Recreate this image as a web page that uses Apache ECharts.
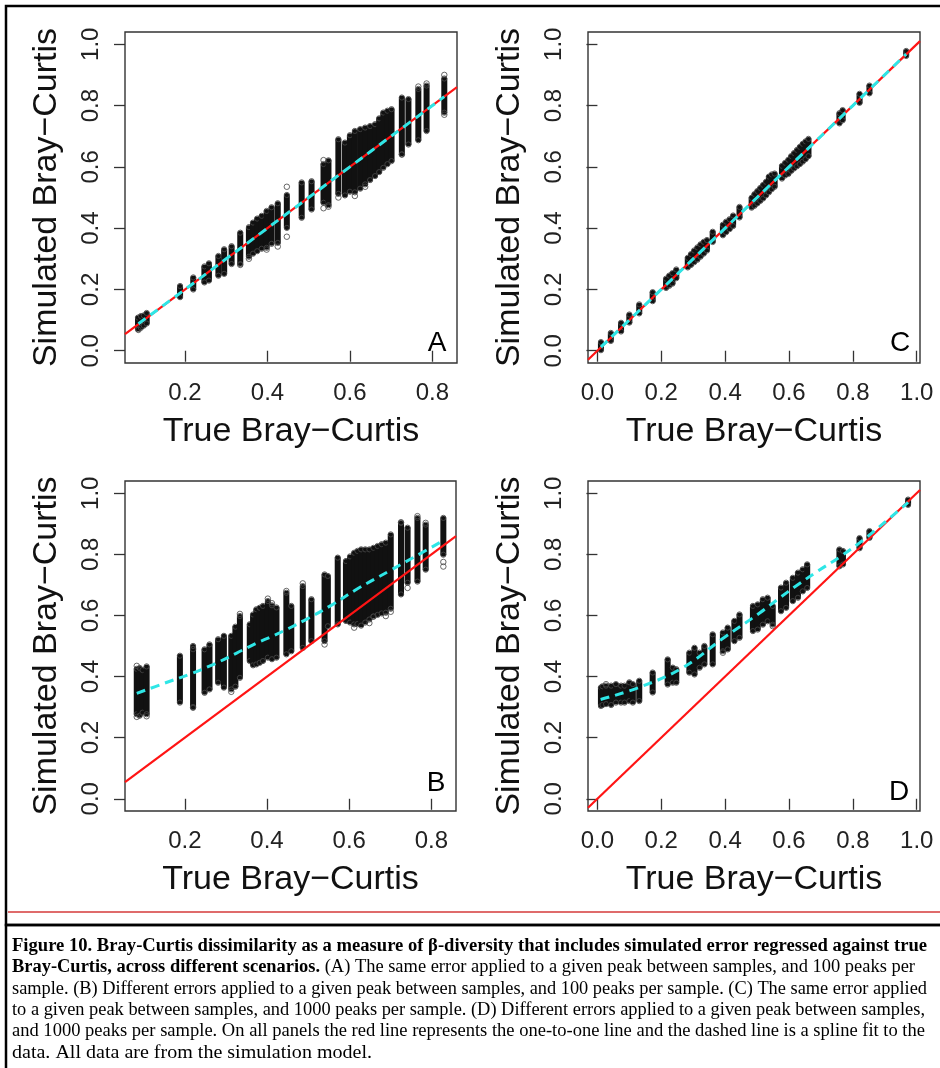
<!DOCTYPE html>
<html>
<head>
<meta charset="utf-8">
<title>Figure 10</title>
<script src="https://cdn.jsdelivr.net/npm/echarts@6/dist/echarts.min.js"></script>
<style>
  html, body { margin: 0; padding: 0; background: #fff; }
  #main { width: 940px; height: 1068px; }
</style>
</head>
<body>
<div id="main"></div>
<script>
  // tick labels
  const yTicks = [0, 0.2, 0.4, 0.6, 0.8, 1.0];
  const xTicksAB = [0.2, 0.4, 0.6, 0.8];
  const xTicksCD = [0, 0.2, 0.4, 0.6, 0.8, 1.0];

  // columns of simulated points: [true BC, lowest simulated BC, highest simulated BC]
  const clustersA = [
    [0.086, 0.073, 0.105], [0.093, 0.078, 0.110], [0.100, 0.085, 0.112], [0.107, 0.092, 0.120],
    [0.188, 0.178, 0.208], [0.220, 0.203, 0.236], [0.247, 0.226, 0.272], [0.258, 0.232, 0.282],
    [0.281, 0.248, 0.306], [0.295, 0.254, 0.328], [0.313, 0.286, 0.338], [0.334, 0.286, 0.382],
    [0.355, 0.310, 0.400], [0.365, 0.320, 0.415], [0.375, 0.328, 0.428], [0.386, 0.336, 0.437],
    [0.398, 0.339, 0.453], [0.410, 0.352, 0.465], [0.425, 0.355, 0.478], [0.447, 0.404, 0.505],
    [0.483, 0.437, 0.546], [0.507, 0.464, 0.550], [0.536, 0.486, 0.606], [0.548, 0.478, 0.618],
    [0.572, 0.515, 0.687], [0.588, 0.510, 0.676], [0.600, 0.522, 0.700], [0.612, 0.520, 0.714],
    [0.625, 0.532, 0.720], [0.637, 0.546, 0.725], [0.649, 0.560, 0.730], [0.661, 0.573, 0.736],
    [0.671, 0.586, 0.755], [0.681, 0.600, 0.774], [0.691, 0.612, 0.780], [0.701, 0.622, 0.785],
    [0.726, 0.644, 0.823], [0.742, 0.676, 0.818], [0.766, 0.690, 0.851], [0.786, 0.720, 0.862],
    [0.829, 0.780, 0.885]
  ];
  const clustersB = [
    [0.083, 0.280, 0.422], [0.090, 0.275, 0.425], [0.097, 0.285, 0.418], [0.107, 0.280, 0.430],
    [0.188, 0.318, 0.465], [0.220, 0.301, 0.497], [0.248, 0.350, 0.486], [0.260, 0.361, 0.502],
    [0.281, 0.383, 0.519], [0.295, 0.367, 0.530], [0.313, 0.361, 0.530], [0.323, 0.370, 0.560],
    [0.334, 0.399, 0.595], [0.358, 0.454, 0.568], [0.366, 0.440, 0.600], [0.374, 0.443, 0.617],
    [0.382, 0.448, 0.622], [0.390, 0.454, 0.628], [0.402, 0.465, 0.644], [0.412, 0.460, 0.630],
    [0.423, 0.465, 0.623], [0.447, 0.476, 0.671], [0.459, 0.486, 0.628], [0.487, 0.497, 0.693],
    [0.508, 0.519, 0.650], [0.540, 0.519, 0.731], [0.548, 0.568, 0.726], [0.572, 0.574, 0.786],
    [0.592, 0.585, 0.775], [0.602, 0.580, 0.790], [0.612, 0.574, 0.802], [0.620, 0.575, 0.808],
    [0.629, 0.570, 0.813], [0.639, 0.580, 0.813], [0.649, 0.590, 0.813], [0.659, 0.600, 0.818],
    [0.669, 0.605, 0.824], [0.679, 0.610, 0.830], [0.689, 0.612, 0.835], [0.701, 0.625, 0.862],
    [0.726, 0.672, 0.900], [0.742, 0.710, 0.884], [0.766, 0.714, 0.916], [0.786, 0.753, 0.894],
    [0.829, 0.802, 0.916]
  ];
  const clustersC = [
    [0.011, 0.005, 0.025], [0.042, 0.035, 0.055], [0.074, 0.066, 0.088], [0.100, 0.095, 0.115],
    [0.131, 0.125, 0.148], [0.173, 0.165, 0.188], [0.215, 0.208, 0.232], [0.225, 0.215, 0.242],
    [0.235, 0.222, 0.250], [0.247, 0.240, 0.262], [0.283, 0.275, 0.300], [0.293, 0.283, 0.312],
    [0.303, 0.292, 0.324], [0.313, 0.300, 0.334], [0.323, 0.310, 0.344], [0.333, 0.320, 0.352],
    [0.343, 0.330, 0.358], [0.361, 0.358, 0.385], [0.393, 0.380, 0.408], [0.403, 0.390, 0.418],
    [0.414, 0.400, 0.426], [0.425, 0.410, 0.438], [0.445, 0.438, 0.466], [0.483, 0.470, 0.496],
    [0.492, 0.476, 0.508], [0.501, 0.484, 0.518], [0.510, 0.492, 0.528], [0.519, 0.500, 0.538],
    [0.528, 0.510, 0.548], [0.537, 0.520, 0.565], [0.546, 0.530, 0.572], [0.555, 0.538, 0.575],
    [0.578, 0.565, 0.600], [0.588, 0.575, 0.610], [0.598, 0.580, 0.620], [0.607, 0.590, 0.632],
    [0.616, 0.598, 0.642], [0.625, 0.605, 0.652], [0.634, 0.612, 0.662], [0.643, 0.620, 0.672],
    [0.652, 0.628, 0.680], [0.661, 0.638, 0.688], [0.758, 0.745, 0.772], [0.768, 0.755, 0.782],
    [0.821, 0.812, 0.835], [0.852, 0.843, 0.862], [0.967, 0.965, 0.975]
  ];
  const clustersD = [
    [0.011, 0.307, 0.361], [0.016, 0.310, 0.365], [0.027, 0.313, 0.367], [0.043, 0.310, 0.367],
    [0.058, 0.318, 0.372], [0.074, 0.318, 0.367], [0.085, 0.318, 0.367], [0.100, 0.323, 0.378],
    [0.111, 0.318, 0.372], [0.131, 0.323, 0.383], [0.173, 0.351, 0.410], [0.220, 0.377, 0.453],
    [0.236, 0.383, 0.426], [0.247, 0.383, 0.421], [0.288, 0.416, 0.475], [0.304, 0.410, 0.491],
    [0.320, 0.432, 0.475], [0.335, 0.443, 0.497], [0.361, 0.443, 0.535], [0.393, 0.486, 0.541],
    [0.408, 0.492, 0.557], [0.429, 0.519, 0.579], [0.445, 0.530, 0.600], [0.487, 0.552, 0.628],
    [0.502, 0.557, 0.633], [0.518, 0.573, 0.650], [0.533, 0.584, 0.655], [0.549, 0.573, 0.628],
    [0.575, 0.617, 0.688], [0.591, 0.628, 0.704], [0.612, 0.650, 0.720], [0.628, 0.661, 0.737],
    [0.643, 0.682, 0.748], [0.657, 0.693, 0.764], [0.758, 0.764, 0.813], [0.769, 0.770, 0.808],
    [0.821, 0.823, 0.850], [0.852, 0.857, 0.873], [0.973, 0.965, 0.976]
  ];

  // stray points outside the dense columns: [true BC, simulated BC]
  const outliersA = [
    [0.087, 0.068], [0.334, 0.280], [0.355, 0.300], [0.398, 0.330], [0.425, 0.340], [0.447, 0.535],
    [0.447, 0.372], [0.536, 0.622], [0.536, 0.465], [0.548, 0.470], [0.572, 0.500], [0.612, 0.505],
    [0.637, 0.535], [0.726, 0.640], [0.766, 0.862], [0.786, 0.872], [0.829, 0.900], [0.829, 0.770]
  ];
  const outliersB = [
    [0.083, 0.268], [0.107, 0.270], [0.083, 0.435], [0.220, 0.300], [0.220, 0.490], [0.313, 0.350],
    [0.334, 0.605], [0.402, 0.655], [0.412, 0.640], [0.447, 0.680], [0.487, 0.705], [0.540, 0.505],
    [0.612, 0.560], [0.649, 0.575], [0.689, 0.598], [0.701, 0.612], [0.659, 0.596], [0.726, 0.905],
    [0.766, 0.925], [0.786, 0.903], [0.829, 0.760], [0.829, 0.775], [0.742, 0.690]
  ];
  const outliersC = [];
  const outliersD = [[0.027, 0.375], [0.393, 0.478], [0.549, 0.565]];

  // spline fits (dashed cyan)
  const splineA = [[0.087, 0.088], [0.2, 0.2], [0.3, 0.3], [0.4, 0.4], [0.5, 0.5], [0.6, 0.6], [0.7, 0.7], [0.829, 0.829]];
  const splineB = [
    [0.083, 0.345], [0.150, 0.378], [0.216, 0.410], [0.270, 0.440], [0.325, 0.476], [0.372, 0.508],
    [0.418, 0.535], [0.491, 0.584], [0.556, 0.633], [0.621, 0.688], [0.701, 0.748], [0.758, 0.791],
    [0.829, 0.845]
  ];
  const splineC = [[0.011, 0.012], [0.2, 0.2], [0.4, 0.4], [0.6, 0.6], [0.8, 0.8], [0.967, 0.968]];
  const splineD = [
    [0.010, 0.325], [0.137, 0.367], [0.267, 0.429], [0.396, 0.527], [0.508, 0.608], [0.570, 0.657],
    [0.623, 0.697], [0.690, 0.745], [0.760, 0.792], [0.830, 0.845], [0.900, 0.905], [0.973, 0.970]
  ];

  const captionRows = [
    ['Figure 10. Bray-Curtis dissimilarity as a measure of β-diversity that includes simulated error regressed against true', ''],
    ['Bray-Curtis, across different scenarios.', ' (A) The same error applied to a given peak between samples, and 100 peaks per'],
    ['', 'sample. (B) Different errors applied to a given peak between samples, and 100 peaks per sample. (C) The same error applied'],
    ['', 'to a given peak between samples, and 1000 peaks per sample. (D) Different errors applied to a given peak between samples,'],
    ['', 'and 1000 peaks per sample. On all panels the red line represents the one-to-one line and the dashed line is a spline fit to the'],
    ['', 'data. All data are from the simulation model.']
  ];
  // right end of each caption line in the page
  const captionEnds = [927, 915, 927, 925, 925, 372];

  // panel layout (R plot regions)
  const panels = [
    { letter: 'A', grid: [125, 32, 332, 331], x: [0.0544, 0.8598], xt: xTicksAB, cl: clustersA, out: outliersA, sp: splineA, lp: [437, 343] },
    { letter: 'B', grid: [125, 481, 331, 330], x: [0.0544, 0.8598], xt: xTicksAB, cl: clustersB, out: outliersB, sp: splineB, lp: [436, 783] },
    { letter: 'C', grid: [588, 32, 332, 331], x: [-0.0295, 1.0103], xt: xTicksCD, cl: clustersC, out: outliersC, sp: splineC, lp: [900, 343] },
    { letter: 'D', grid: [588, 481, 332, 330], x: [-0.0295, 1.0103], xt: xTicksCD, cl: clustersD, out: outliersD, sp: splineD, lp: [899, 792] }
  ];
  const yRange = [-0.04, 1.04];
  const sans = '"Liberation Sans", Arial, sans-serif';
  const serif = '"Liberation Serif", "Times New Roman", serif';

  const grids = [], xAxes = [], yAxes = [], series = [], graphics = [];

  panels.forEach(function (p, i) {
    grids.push({
      left: p.grid[0], top: p.grid[1], width: p.grid[2], height: p.grid[3],
      show: true, borderColor: '#333', borderWidth: 1.4, backgroundColor: 'transparent'
    });
    xAxes.push({
      gridIndex: i, type: 'value', min: p.x[0], max: p.x[1],
      name: 'True Bray\u2212Curtis', nameLocation: 'middle', nameGap: 52,
      nameTextStyle: { fontFamily: sans, fontSize: 34, color: '#111' },
      axisLine: { show: false },
      axisTick: { show: true, inside: false, length: 11, customValues: p.xt, lineStyle: { color: '#333', width: 1.3 } },
      axisLabel: {
        customValues: p.xt, margin: 18, fontFamily: sans, fontSize: 24, color: '#222',
        formatter: function (v) { return v.toFixed(1); }
      },
      splitLine: { show: false }
    });
    yAxes.push({
      gridIndex: i, type: 'value', min: yRange[0], max: yRange[1],
      name: 'Simulated Bray\u2212Curtis', nameLocation: 'middle', nameGap: 61,
      nameTextStyle: { fontFamily: sans, fontSize: 34, color: '#111' },
      axisLine: { show: false },
      axisTick: { show: true, inside: false, length: 11, customValues: yTicks, lineStyle: { color: '#333', width: 1.3 } },
      axisLabel: {
        customValues: yTicks, margin: 22, rotate: 90, fontFamily: sans, fontSize: 24, color: '#222',
        formatter: function (v) { return v.toFixed(1); }
      },
      splitLine: { show: false }
    });

    // dense columns of points
    series.push({
      type: 'custom', xAxisIndex: i, yAxisIndex: i, clip: true, z: 2,
      encode: { x: 0, y: [1, 2] },
      data: p.cl,
      renderItem: function (params, api) {
        const top = api.coord([api.value(0), api.value(2)]);
        const bot = api.coord([api.value(0), api.value(1)]);
        const w = 6;
        return {
          type: 'group',
          children: [
            { type: 'rect', shape: { x: top[0] - w / 2, y: top[1] - w / 2, width: w, height: bot[1] - top[1] + w, r: w / 2 },
              style: { fill: '#111' } },
            { type: 'circle', shape: { cx: top[0], cy: top[1] - 1, r: 2.6 }, style: { fill: 'none', stroke: '#444', lineWidth: 0.9 } },
            { type: 'circle', shape: { cx: bot[0], cy: bot[1] + 1, r: 2.6 }, style: { fill: 'none', stroke: '#444', lineWidth: 0.9 } }
          ]
        };
      }
    });
    series.push({
      type: 'scatter', xAxisIndex: i, yAxisIndex: i, z: 2,
      symbol: 'circle', symbolSize: 5.5,
      itemStyle: { color: 'transparent', borderColor: '#444', borderWidth: 1 },
      data: p.out
    });
    // one-to-one line across the plot region
    series.push({
      type: 'line', xAxisIndex: i, yAxisIndex: i, z: 3, symbol: 'none', silent: true,
      lineStyle: { color: '#ff1414', width: 2.2 },
      data: [[p.x[0], p.x[0]], [p.x[1], p.x[1]]]
    });
    // spline fit
    series.push({
      type: 'line', xAxisIndex: i, yAxisIndex: i, z: 4, symbol: 'none', smooth: 0.4, silent: true,
      lineStyle: { color: '#2ee6e6', width: 3, type: [9, 6] },
      data: p.sp
    });

    graphics.push({
      type: 'text', x: p.lp[0], y: p.lp[1], z: 10,
      style: { text: p.letter, font: '28px ' + sans, fill: '#000', align: 'center', verticalAlign: 'middle' }
    });
  });

  // frame and caption
  graphics.push({ type: 'rect', shape: { x: 6, y: 6, width: 950, height: 919 }, style: { fill: 'none', stroke: '#000', lineWidth: 2.5 }, z: 1 });
  graphics.push({ type: 'line', shape: { x1: 8, y1: 912, x2: 940, y2: 912 }, style: { stroke: '#d43a3a', lineWidth: 1.3 }, z: 1 });
  graphics.push({ type: 'rect', shape: { x: 6, y: 925, width: 950, height: 160 }, style: { fill: 'none', stroke: '#000', lineWidth: 2.5 }, z: 1 });

  // caption lines squeezed to the width each line has in the figure
  const ctx = document.createElement('canvas').getContext('2d');
  captionRows.forEach(function (row, k) {
    ctx.font = 'bold 18px ' + serif;
    let w = row[0] ? ctx.measureText(row[0]).width : 0;
    ctx.font = '18px ' + serif;
    w += row[1] ? ctx.measureText(row[1]).width : 0;
    let txt = '';
    if (row[0]) txt += '{b|' + row[0] + '}';
    if (row[1]) txt += '{n|' + row[1] + '}';
    graphics.push({
      type: 'text', x: 12, y: 946 + k * 21.4, scaleX: (captionEnds[k] - 12) / w, z: 10,
      style: {
        text: txt, align: 'left', verticalAlign: 'middle',
        rich: {
          b: { fontFamily: serif, fontSize: 18, fontWeight: 'bold', fill: '#000' },
          n: { fontFamily: serif, fontSize: 18, fill: '#000' }
        }
      }
    });
  });

  const option = {
    animation: false,
    backgroundColor: '#fff',
    grid: grids,
    xAxis: xAxes,
    yAxis: yAxes,
    series: series,
    graphic: graphics
  };
  const chartObj = echarts.init(document.getElementById('main'));
  chartObj.setOption(option, true);
</script>
</body>
</html>
